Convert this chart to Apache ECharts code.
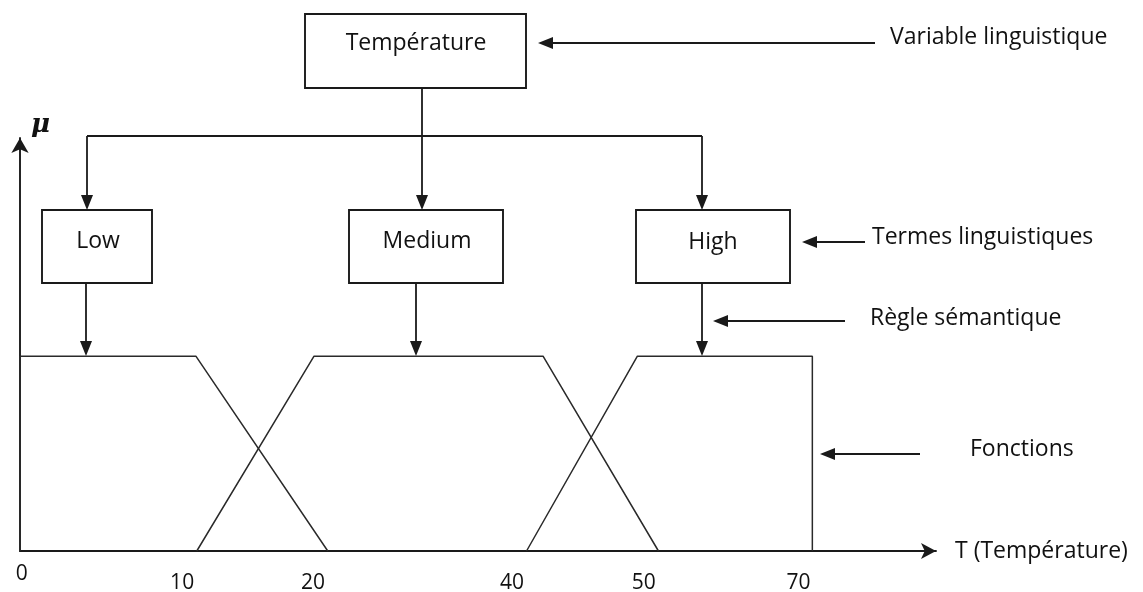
<!DOCTYPE html>
<html>
<head>
<meta charset="utf-8">
<script src="https://cdn.jsdelivr.net/npm/echarts@6/dist/echarts.min.js"></script>
<style>html,body{margin:0;padding:0;background:#fff}#c{width:1143px;height:592px}</style>
</head>
<body>
<div id="c"></div>
<script>
// Schematic x units (diagram is not to scale), mu on y
const lowX = [0, 0, 19.2, 33.6];
const lowY = [0, 1, 1, 0];
const medX = [19.3, 32.1, 57.1, 69.7];
const medY = [0, 1, 1, 0];
const highX = [55.3, 67.4, 86.5, 86.5];
const highY = [0, 1, 1, 0];
const tickPos = [0.2, 17.7, 32.0, 53.7, 68.1, 85.0];
const tickLabels = ['0', '10', '20', '40', '50', '70'];
const termNames = ['Low', 'Medium', 'High'];

const FONT = 'Open Sans';
const INK = '#1a1a1a';
const zip = (xs, ys) => xs.map((x, i) => [x, ys[i]]);

function seg(x1, y1, x2, y2, w) {
  return {type: 'line', z: 10, shape: {x1, y1, x2, y2}, style: {stroke: INK, lineWidth: w || 1.8}};
}
function head(tx, ty, dir) {
  const L = 15, W = 6;
  const pts = dir === 'down'
    ? [[tx, ty], [tx - W, ty - L], [tx + W, ty - L]]
    : [[tx, ty], [tx + L, ty - W], [tx + L, ty + W]];
  return {type: 'polygon', z: 11, shape: {points: pts}, style: {fill: INK}};
}
function box(x, y, w, h) {
  return {type: 'rect', z: 9, shape: {x, y, width: w, height: h}, style: {fill: '#fff', stroke: INK, lineWidth: 1.9}};
}
function txt(x, y, t, align) {
  return {type: 'text', z: 12, x, y, style: {text: t, fontFamily: FONT, fontSize: 23, fill: '#111', align: align || 'center', verticalAlign: 'middle'}};
}

const graphics = [
  box(305, 14, 221, 74), txt(416, 43, 'Température'),
  seg(875, 43, 545, 43), head(538, 43, 'left'), txt(890, 37, 'Variable linguistique', 'left'),
  seg(422, 88, 422, 200), head(422, 210, 'down'),
  seg(87, 136, 702, 136),
  seg(87, 136, 87, 200), head(87, 210, 'down'),
  seg(702, 136, 702, 200), head(702, 210, 'down'),
  box(42, 210, 110, 73), txt(98, 241, termNames[0]),
  box(349, 210, 154, 73), txt(427, 241, termNames[1]),
  box(636, 210, 154, 73), txt(713, 242, termNames[2]),
  seg(86, 283, 86, 346), head(86, 356, 'down'),
  seg(416, 283, 416, 346), head(416, 356, 'down'),
  seg(702, 283, 702, 346), head(702, 356, 'down'),
  seg(865, 242, 808, 242), head(802, 242, 'left'), txt(872, 237, 'Termes linguistiques', 'left'),
  seg(845, 321, 719, 321), head(713, 321, 'left'), txt(870, 318, 'Règle sémantique', 'left'),
  seg(920, 454, 826, 454), head(820, 454, 'left'), txt(970, 449, 'Fonctions', 'left')
];

const lineStyle = {color: '#2a2a2a', width: 1.5};
const chart = echarts.init(document.getElementById('c'), null, {renderer: 'canvas'});
chart.setOption({
  animation: false,
  backgroundColor: '#fff',
  grid: {left: 20, right: 207, top: 138, bottom: 41, outerBoundsMode: 'none', containLabel: false},
  xAxis: {
    type: 'value', min: 0, max: 100,
    name: 'T (Température)', nameLocation: 'end', nameGap: 19,
    nameTextStyle: {fontFamily: FONT, fontSize: 23, color: '#111', verticalAlign: 'middle', padding: [0, 0, 6, 0]},
    axisLine: {show: true, symbol: ['none', 'arrow'], symbolSize: [12, 15], lineStyle: {color: INK, width: 1.9}},
    axisTick: {show: false},
    splitLine: {show: false},
    axisLabel: {
      customValues: tickPos,
      margin: 43,
      verticalAlign: 'bottom',
      fontFamily: FONT, fontSize: 21, color: '#111', lineHeight: 22,
      formatter: v => {
        const i = tickPos.indexOf(v);
        return i === 0 ? '{z|' + tickLabels[0] + '}\n{s| }' : tickLabels[i];
      },
      rich: {
        z: {fontFamily: FONT, fontSize: 21, color: '#111', lineHeight: 22},
        s: {fontSize: 4, lineHeight: 9, height: 9}
      }
    }
  },
  yAxis: {
    type: 'value', min: 0, max: 2.12,
    name: 'μ', nameLocation: 'end', nameGap: 0,
    nameTextStyle: {fontFamily: 'DejaVu Serif', fontSize: 26, fontWeight: 'bold', fontStyle: 'italic', color: '#111', align: 'left', verticalAlign: 'bottom', padding: [0, 0, 0, 11]},
    axisLine: {show: true, symbol: ['none', 'arrow'], symbolSize: [13, 15], lineStyle: {color: INK, width: 1.9}},
    axisTick: {show: false},
    axisLabel: {show: false},
    splitLine: {show: false}
  },
  series: [
    {type: 'line', data: zip(lowX, lowY), symbol: 'none', lineStyle, silent: true},
    {type: 'line', data: zip(medX, medY), symbol: 'none', lineStyle, silent: true},
    {type: 'line', data: zip(highX, highY), symbol: 'none', lineStyle, silent: true}
  ],
  graphic: graphics
});
</script>
</body>
</html>
